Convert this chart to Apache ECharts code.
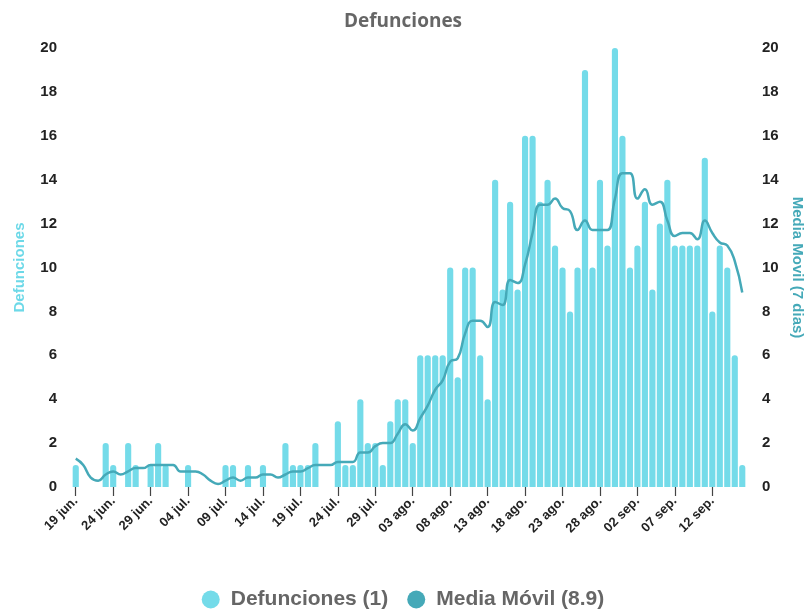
<!DOCTYPE html>
<html>
<head>
<meta charset="utf-8">
<script src="https://cdn.jsdelivr.net/npm/echarts@6/dist/echarts.min.js"></script>
<style>
html,body{margin:0;padding:0;background:#fff;}
#chart{width:806px;height:610px;}
</style>
</head>
<body>
<div id="chart"></div>
<script>
const dates = [
  '19 jun.','20 jun.','21 jun.','22 jun.','23 jun.','24 jun.','25 jun.','26 jun.','27 jun.','28 jun.',
  '29 jun.','30 jun.','01 jul.','02 jul.','03 jul.','04 jul.','05 jul.','06 jul.','07 jul.','08 jul.',
  '09 jul.','10 jul.','11 jul.','12 jul.','13 jul.','14 jul.','15 jul.','16 jul.','17 jul.','18 jul.',
  '19 jul.','20 jul.','21 jul.','22 jul.','23 jul.','24 jul.','25 jul.','26 jul.','27 jul.','28 jul.',
  '29 jul.','30 jul.','31 jul.','01 ago.','02 ago.','03 ago.','04 ago.','05 ago.','06 ago.','07 ago.',
  '08 ago.','09 ago.','10 ago.','11 ago.','12 ago.','13 ago.','14 ago.','15 ago.','16 ago.','17 ago.',
  '18 ago.','19 ago.','20 ago.','21 ago.','22 ago.','23 ago.','24 ago.','25 ago.','26 ago.','27 ago.',
  '28 ago.','29 ago.','30 ago.','31 ago.','01 sep.','02 sep.','03 sep.','04 sep.','05 sep.','06 sep.',
  '07 sep.','08 sep.','09 sep.','10 sep.','11 sep.','12 sep.','13 sep.','14 sep.','15 sep.','16 sep.'
];

const defunciones = [
  1,0,0,0,2,1,0,2,1,0,
  1,2,1,0,0,1,0,0,0,0,
  1,1,0,1,0,1,0,0,2,1,
  1,1,2,0,0,3,1,1,4,2,
  2,1,3,4,4,2,6,6,6,6,
  10,5,10,10,6,4,14,9,13,9,
  16,16,13,14,11,10,8,10,19,10,
  14,11,20,16,10,11,13,9,12,14,
  11,11,11,11,15,8,11,10,6,1
];

const mediaMovil = [
  1.29,1.00,0.43,0.29,0.57,0.71,0.57,0.71,0.86,0.86,
  1.00,1.00,1.00,1.00,0.71,0.71,0.71,0.57,0.29,0.14,
  0.29,0.43,0.29,0.43,0.43,0.57,0.57,0.43,0.57,0.71,
  0.71,0.86,1.00,1.00,1.00,1.14,1.14,1.14,1.57,1.57,
  1.86,2.00,2.00,2.43,2.86,2.57,3.14,3.71,4.43,4.86,
  5.71,5.86,7.00,7.57,7.57,7.29,8.43,8.29,9.43,9.29,
  10.14,11.57,12.86,12.86,13.14,12.71,12.57,11.71,12.14,11.71,
  11.71,11.71,13.14,14.29,14.29,13.14,13.57,12.86,13.00,12.14,
  11.43,11.57,11.57,11.29,12.14,11.57,11.14,11.00,10.29,8.86
];

const yTicks = { min: 0, max: 20, interval: 2 };

const barColor = '#6dd9e8';
const lineColor = '#45a9b8';
const font = '"Liberation Sans", Arial, Helvetica, sans-serif';

const chart = echarts.init(document.getElementById('chart'), null, { renderer: 'canvas' });

const lastBar = defunciones[defunciones.length - 1];
const lastAvg = mediaMovil[mediaMovil.length - 1];

chart.setOption({
  animation: false,
  backgroundColor: '#ffffff',
  title: {
    text: 'Defunciones',
    left: 'center',
    top: 7,
    textStyle: { fontFamily: '"Open Sans", sans-serif', fontSize: 19, fontWeight: 'bold', color: '#666666' }
  },
  legend: {
    top: 584,
    left: 'center',
    icon: 'circle',
    itemWidth: 30,
    itemHeight: 18,
    itemGap: 19,
    data: ['Defunciones', 'Media Móvil'],
    formatter: function (name) {
      if (name === 'Defunciones') return name + ' (' + lastBar + ')';
      return name + ' (' + lastAvg.toFixed(1) + ')';
    },
    textStyle: { fontFamily: font, fontSize: 21, fontWeight: 'bold', color: '#666666' }
  },
  grid: { left: 72, right: 60, top: 48, bottom: 123, containLabel: false, outerBoundsMode: 'none' },
  xAxis: {
    type: 'category',
    data: dates,
    boundaryGap: true,
    axisLine: { show: false },
    axisTick: { show: true, interval: 4, alignWithLabel: true, length: 9, lineStyle: { color: '#444', width: 1.2 } },
    axisLabel: {
      interval: 4, rotate: 45, margin: 12,
      fontFamily: font, fontSize: 13, fontWeight: 'bold', color: '#222'
    },
    splitLine: { show: false }
  },
  yAxis: [
    {
      type: 'value', min: yTicks.min, max: yTicks.max, interval: yTicks.interval,
      name: 'Defunciones', nameLocation: 'middle', nameGap: 45,
      nameTextStyle: { fontFamily: font, fontSize: 15, fontWeight: 'bold', color: barColor },
      axisLine: { show: false }, axisTick: { show: false },
      splitLine: { show: false },
      axisLabel: { margin: 15, fontFamily: font, fontSize: 15, fontWeight: 'bold', color: '#222' }
    },
    {
      type: 'value', min: yTicks.min, max: yTicks.max, interval: yTicks.interval,
      name: 'Media Movil (7 dias)', nameLocation: 'middle', nameGap: 44, nameRotate: -90,
      nameTextStyle: { fontFamily: font, fontSize: 15, fontWeight: 'bold', color: lineColor },
      axisLine: { show: false }, axisTick: { show: false },
      splitLine: { show: false },
      axisLabel: { margin: 16, fontFamily: font, fontSize: 15, fontWeight: 'bold', color: '#222' }
    }
  ],
  series: [
    {
      name: 'Defunciones',
      type: 'bar',
      yAxisIndex: 0,
      data: defunciones,
      barCategoryGap: '18%',
      itemStyle: { color: barColor, opacity: 0.95, borderRadius: [3, 3, 0, 0] }
    },
    {
      name: 'Media Móvil',
      type: 'line',
      yAxisIndex: 1,
      data: mediaMovil,
      smooth: 0.5,
      showSymbol: false,
      symbol: 'none',
      itemStyle: { color: lineColor },
      lineStyle: { color: lineColor, width: 2.5 },
      z: 3
    }
  ]
});
</script>
</body>
</html>
